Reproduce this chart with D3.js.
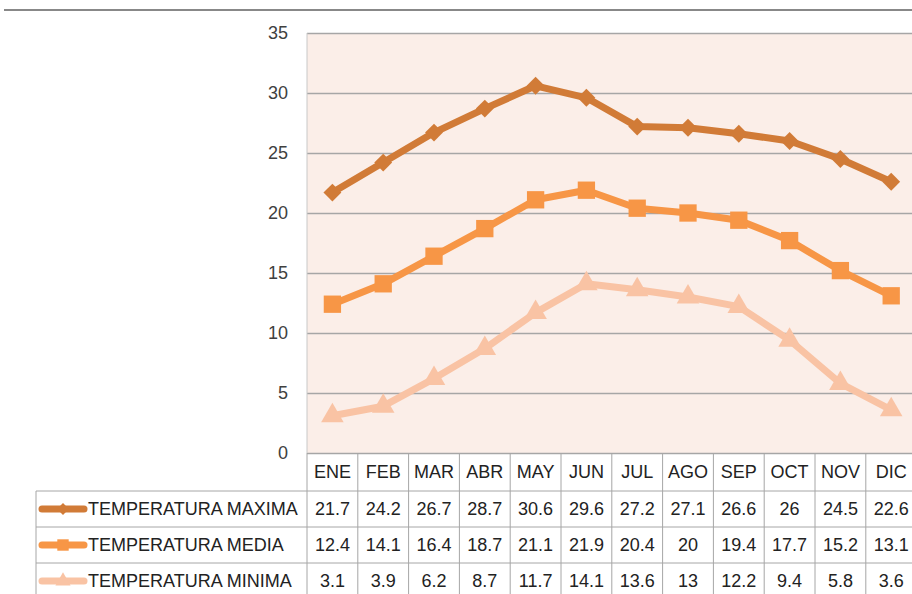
<!DOCTYPE html>
<html lang="es">
<head>
<meta charset="utf-8">
<title>Temperaturas</title>
<script src="https://cdn.jsdelivr.net/npm/d3@7"></script>
<style>
  html, body { margin: 0; padding: 0; background: #fff; }
  svg { display: block; font-family: "Liberation Sans", Arial, sans-serif; }
</style>
</head>
<body>
<div id="chart1"></div>
<script>
// data
const months = ["ENE","FEB","MAR","ABR","MAY","JUN","JUL","AGO","SEP","OCT","NOV","DIC"];
const tempMax   = [21.7, 24.2, 26.7, 28.7, 30.6, 29.6, 27.2, 27.1, 26.6, 26, 24.5, 22.6];
const tempMedia = [12.4, 14.1, 16.4, 18.7, 21.1, 21.9, 20.4, 20, 19.4, 17.7, 15.2, 13.1];
const tempMin   = [3.1, 3.9, 6.2, 8.7, 11.7, 14.1, 13.6, 13, 12.2, 9.4, 5.8, 3.6];
const seriesNames = ["TEMPERATURA MAXIMA", "TEMPERATURA MEDIA", "TEMPERATURA MINIMA"];
const yTicks = [0, 5, 10, 15, 20, 25, 30, 35];

// diamond = square turned 45 degrees
const series = [
  { name: seriesNames[0], values: tempMax,   color: "#d17b37", shape: d3.symbolSquare,   size: 160, rot: 45, legSize: 70 },
  { name: seriesNames[1], values: tempMedia, color: "#f79646", shape: d3.symbolSquare,   size: 300, rot: 0,  legSize: 130 },
  { name: seriesNames[2], values: tempMin,   color: "#f9c3a4", shape: d3.symbolTriangle, size: 220, rot: 0,  legSize: 100 }
];

const W = 912, H = 594;
const plot = { left: 307, right: 916.6, top: 33, bottom: 453 };
const rowH = 36;
const tableLeft = 36;
const gridColor = "#a6a6a6";
const fs = "18px";

const svg = d3.select("#chart1").append("svg")
  .attr("width", W).attr("height", H);

// top rule
svg.append("line")
  .attr("x1", 4).attr("x2", W).attr("y1", 10).attr("y2", 10)
  .attr("stroke", "#888").attr("stroke-width", 2);

const x = d3.scaleBand().domain(months).range([plot.left, plot.right]);
const y = d3.scaleLinear().domain([0, 35]).range([plot.bottom, plot.top]);

// plot background
svg.append("rect")
  .attr("x", plot.left).attr("y", plot.top)
  .attr("width", plot.right - plot.left).attr("height", plot.bottom - plot.top)
  .attr("fill", "#fbeee8");

// horizontal grid
svg.append("g")
  .attr("transform", "translate(" + plot.left + ",0)")
  .call(d3.axisLeft(y).tickValues(yTicks).tickSize(-(plot.right - plot.left)).tickFormat(""))
  .call(g => g.select(".domain").remove())
  .call(g => g.selectAll(".tick line").attr("stroke", gridColor).attr("stroke-width", 1.5));

// y labels
svg.append("g")
  .attr("transform", "translate(" + plot.left + ",0)")
  .call(d3.axisLeft(y).tickValues(yTicks).tickSize(0).tickPadding(19))
  .call(g => g.select(".domain").remove())
  .call(g => g.selectAll("text")
    .attr("fill", "#404040")
    .style("font-size", fs)
    .style("font-family", "'Liberation Sans', Arial, sans-serif"));

svg.append("line")
  .attr("x1", plot.left).attr("x2", plot.left)
  .attr("y1", plot.top).attr("y2", plot.bottom)
  .attr("stroke", "#c8c8c8").attr("stroke-width", 1);

// lines and markers
const line = d3.line()
  .x((d, i) => x(months[i]) + x.bandwidth() / 2)
  .y(d => y(d));

const sg = svg.selectAll(".serie").data(series).enter().append("g").attr("class", "serie");

sg.append("path")
  .attr("d", d => line(d.values))
  .attr("fill", "none")
  .attr("stroke", d => d.color)
  .attr("stroke-width", 7)
  .attr("stroke-linejoin", "round");

sg.each(function(s) {
  d3.select(this).selectAll("path.mk").data(s.values).enter().append("path")
    .attr("class", "mk")
    .attr("transform", (d, i) => "translate(" + (x(months[i]) + x.bandwidth() / 2) + "," + y(d) + ") rotate(" + s.rot + ")")
    .attr("d", d3.symbol().type(s.shape).size(s.size))
    .attr("fill", s.color);
});

// data table
const tableTop = plot.bottom;
const headBottom = 491;
const tableBottom = headBottom + rowH * 3;
const tbl = svg.append("g").attr("stroke", gridColor).attr("stroke-width", 1);

// vertical cell borders
const xEdges = months.map(m => x(m)).concat([plot.right]);
tbl.selectAll("line.v").data(xEdges).enter().append("line")
  .attr("x1", d => d).attr("x2", d => d)
  .attr("y1", tableTop).attr("y2", tableBottom);
tbl.append("line")
  .attr("x1", tableLeft).attr("x2", tableLeft)
  .attr("y1", headBottom).attr("y2", tableBottom);

// horizontal cell borders
[0, 1, 2].forEach(i => {
  tbl.append("line")
    .attr("x1", tableLeft).attr("x2", plot.right)
    .attr("y1", headBottom + i * rowH).attr("y2", headBottom + i * rowH);
});

// header text
svg.selectAll("text.mes").data(months).enter().append("text")
  .attr("class", "mes")
  .attr("x", d => x(d) + x.bandwidth() / 2)
  .attr("y", (tableTop + headBottom) / 2 + 6)
  .attr("text-anchor", "middle")
  .attr("fill", "#222")
  .style("font-size", fs)
  .text(d => d);

// rows
series.forEach((s, r) => {
  const cy = headBottom + r * rowH + rowH / 2;
  const rg = svg.append("g");
  rg.selectAll("text").data(s.values).enter().append("text")
    .attr("x", (d, i) => x(months[i]) + x.bandwidth() / 2)
    .attr("y", cy + 6)
    .attr("text-anchor", "middle")
    .attr("fill", "#222")
    .style("font-size", fs)
    .text(d => d);

  // legend key
  rg.append("line")
    .attr("x1", 42).attr("x2", 84).attr("y1", cy).attr("y2", cy)
    .attr("stroke", s.color).attr("stroke-width", 7).attr("stroke-linecap", "round");
  rg.append("path")
    .attr("transform", "translate(63," + cy + ") rotate(" + s.rot + ")")
    .attr("d", d3.symbol().type(s.shape).size(s.legSize))
    .attr("fill", s.color);
  rg.append("text")
    .attr("x", 88).attr("y", cy + 6)
    .attr("fill", "#222")
    .style("font-size", fs)
    .text(s.name);
});
</script>
</body>
</html>
